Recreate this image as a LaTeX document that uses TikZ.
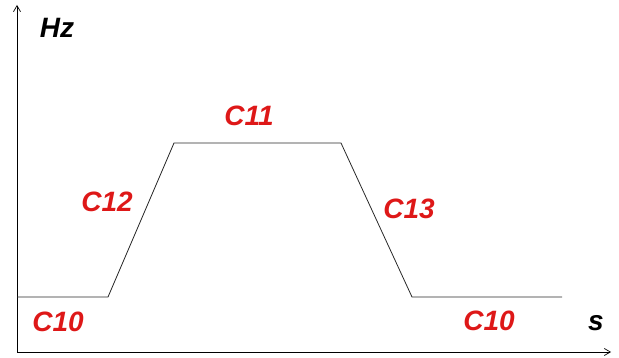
\documentclass[tikz,border=0pt]{standalone}
\usepackage{fontspec}
\setmainfont{Liberation Sans}
\usetikzlibrary{arrows.meta}
\definecolor{labelred}{RGB}{222,24,24}
\definecolor{tracegray}{RGB}{40,40,40}
\tikzset{
  axis/.style={draw=black, line width=0.8pt, -{Straight Barb[length=6pt,width=7pt,line width=0.7pt]}},
  trace/.style={draw=tracegray, line width=0.8pt},
  seglabel/.style={text=labelred, inner sep=0pt, font=\fontsize{28}{30}\selectfont\bfseries\itshape},
  unitlabel/.style={text=black, inner sep=0pt, font=\fontsize{28}{30}\selectfont\bfseries\itshape}
}
\begin{document}
\begin{tikzpicture}[x=1pt, y=-1pt]
  \useasboundingbox (0,0) rectangle (619,358);
  % axes
  \coordinate (origin) at (17,352);
  \coordinate (ytip) at (17,5);
  \coordinate (xtip) at (611,352);
  \draw[axis] (origin) -- (ytip);
  \draw[axis] (origin) -- (xtip);
  % frequency profile
  \coordinate (p0) at (17,297);
  \coordinate (p1) at (108,297);
  \coordinate (p2) at (174,143);
  \coordinate (p3) at (341,143);
  \coordinate (p4) at (412,297);
  \coordinate (p5) at (562,297);
  \draw[trace] (p0) -- (p1) -- (p2) -- (p3) -- (p4) -- (p5);
  % labels
  \node[unitlabel] (hz) at (57,28) {Hz};
  \node[unitlabel] (sec) at (596,323) {s};
  \node[seglabel] (c10a) at (58,322) {C10};
  \node[seglabel] (c12) at (107,202) {C12};
  \node[seglabel] (c11) at (249,116) {C11};
  \node[seglabel] (c13) at (409,209) {C13};
  \node[seglabel] (c10b) at (489,321) {C10};
\end{tikzpicture}
\end{document}
